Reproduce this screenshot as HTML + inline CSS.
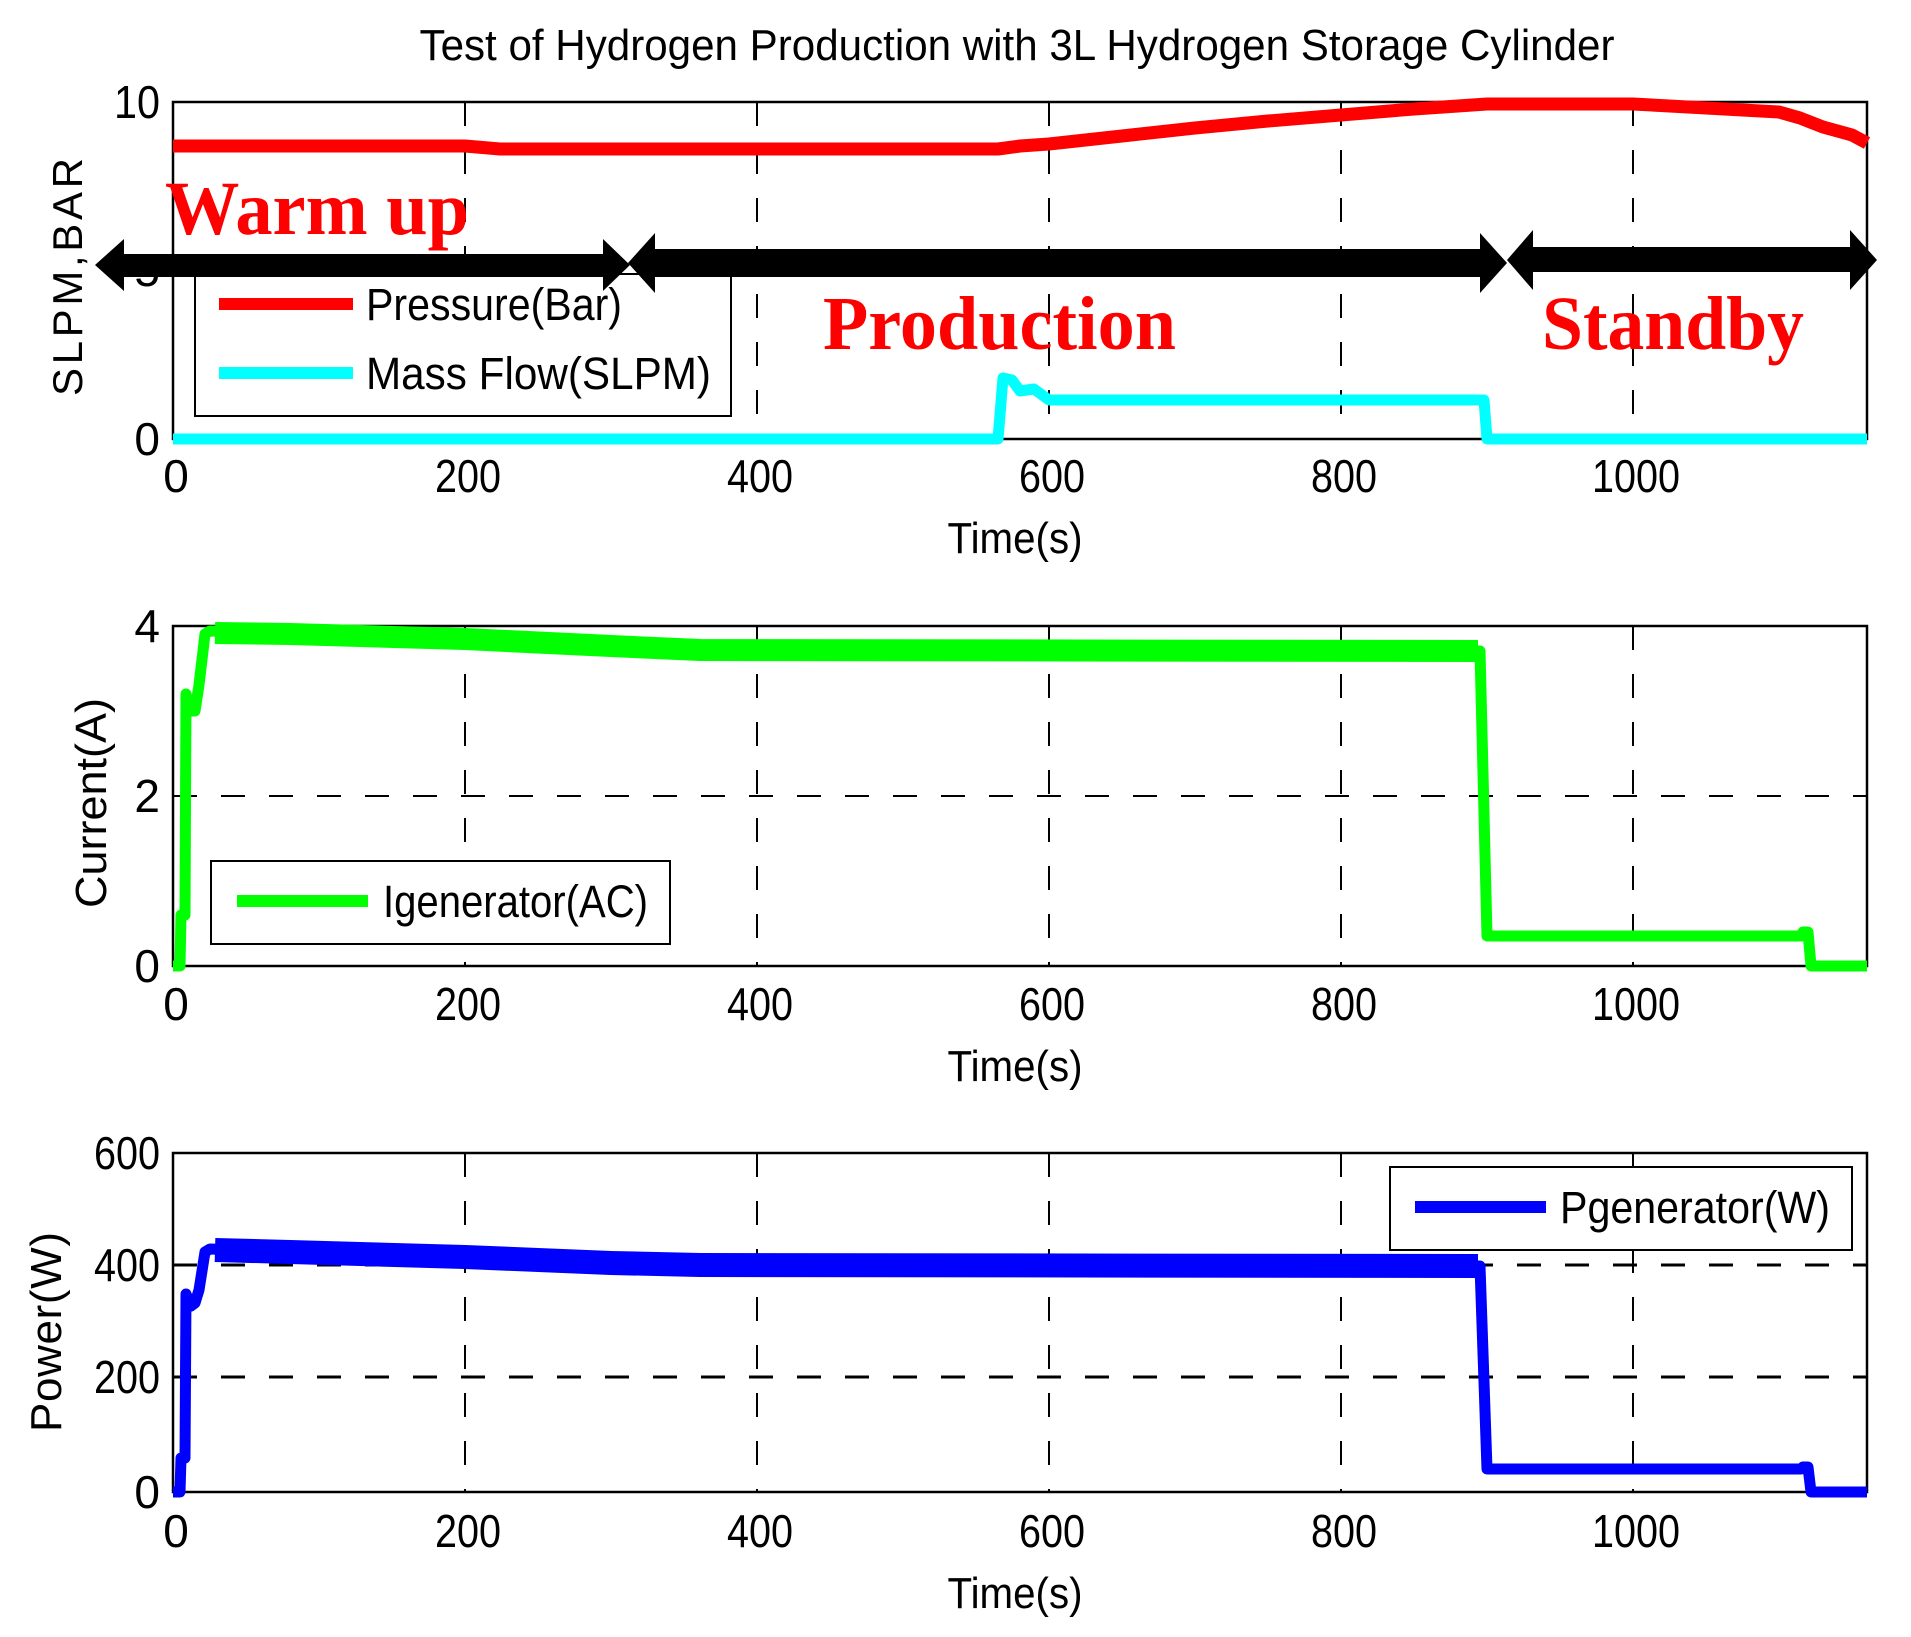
<!DOCTYPE html>
<html><head><meta charset="utf-8"><style>
html,body{margin:0;padding:0;background:#fff;}
svg{display:block;}
text{font-family:"Liberation Sans",Arial,sans-serif;}
</style></head><body>
<svg width="1911" height="1637" viewBox="0 0 1911 1637" xmlns="http://www.w3.org/2000/svg">
<rect width="1911" height="1637" fill="#fff"/>
<text x="1017" y="60" font-size="44" text-anchor="middle" textLength="1195" lengthAdjust="spacingAndGlyphs">Test of Hydrogen Production with 3L Hydrogen Storage Cylinder</text>

<!-- ===== TOP PLOT ===== -->
<g stroke="#000" stroke-width="2" stroke-dasharray="24 24" fill="none">
<line x1="465" y1="102" x2="465" y2="439"/><line x1="757" y1="102" x2="757" y2="439"/>
<line x1="1049" y1="102" x2="1049" y2="439"/><line x1="1341" y1="102" x2="1341" y2="439"/>
<line x1="1633" y1="102" x2="1633" y2="439"/>
</g>
<rect x="173" y="102" width="1694" height="337" fill="none" stroke="#000" stroke-width="2.5"/>
<g font-size="46" text-anchor="end">
<text x="160" y="118" textLength="46" lengthAdjust="spacingAndGlyphs">10</text>
<text x="160" y="286">5</text>
<text x="160" y="455">0</text>
</g>
<g font-size="46" text-anchor="middle">
<text x="176" y="492">0</text><text x="468" y="492" textLength="66" lengthAdjust="spacingAndGlyphs">200</text>
<text x="760" y="492" textLength="66" lengthAdjust="spacingAndGlyphs">400</text><text x="1052" y="492" textLength="66" lengthAdjust="spacingAndGlyphs">600</text>
<text x="1344" y="492" textLength="66" lengthAdjust="spacingAndGlyphs">800</text><text x="1636" y="492" textLength="88" lengthAdjust="spacingAndGlyphs">1000</text>
<text x="1015" y="553" font-size="44" textLength="135" lengthAdjust="spacingAndGlyphs">Time(s)</text>
</g>
<text transform="translate(82,277) rotate(-90)" font-size="42" text-anchor="middle" textLength="238" lengthAdjust="spacing">SLPM,BAR</text>

<rect x="195" y="274" width="536" height="142" fill="#fff" stroke="#000" stroke-width="2"/>
<line x1="219" y1="304" x2="353" y2="304" stroke="#ff0000" stroke-width="12"/>
<line x1="219" y1="373" x2="353" y2="373" stroke="#00ffff" stroke-width="12"/>
<text x="366" y="320" font-size="45" textLength="256" lengthAdjust="spacingAndGlyphs">Pressure(Bar)</text>
<text x="366" y="389" font-size="45" textLength="345" lengthAdjust="spacingAndGlyphs">Mass Flow(SLPM)</text>

<polyline fill="none" stroke="#ff0000" stroke-width="13" stroke-linejoin="round" points="173,146 465,146 500,149 998,149 1020,146 1049,144 1122,136 1195,128 1268,121 1341,115 1414,109 1487,104 1633,104 1706,108 1779,112 1800,118 1823,127 1852,135 1867,143"/>
<polyline fill="none" stroke="#00ffff" stroke-width="11" stroke-linejoin="round" points="173,439 998,439 1003,378 1012,380 1020,391 1034,389 1049,400 1484,400 1487,439 1867,439"/>

<g fill="#000">
<rect x="118" y="254" width="490" height="23"/>
<polygon points="95,265 124,239 124,291"/>
<polygon points="630,265 603,239 603,291"/>
<rect x="650" y="249" width="835" height="28"/>
<polygon points="628,263 655,233 655,293"/>
<polygon points="1507,263 1480,233 1480,293"/>
<rect x="1530" y="247" width="320" height="25"/>
<polygon points="1507,260 1533,230 1533,290"/>
<polygon points="1877,260 1850,230 1850,290"/>
</g>
<g fill="#ff0000" font-weight="bold" font-size="76">
<text x="165" y="234" textLength="304" lengthAdjust="spacingAndGlyphs" style="font-family:'Liberation Serif',serif">Warm up</text>
<text x="823" y="349" textLength="353" lengthAdjust="spacingAndGlyphs" style="font-family:'Liberation Serif',serif">Production</text>
<text x="1542" y="349" textLength="262" lengthAdjust="spacingAndGlyphs" style="font-family:'Liberation Serif',serif">Standby</text>
</g>

<!-- ===== MIDDLE PLOT ===== -->
<g stroke="#000" stroke-width="2" stroke-dasharray="24 24" fill="none">
<line x1="465" y1="626" x2="465" y2="966"/><line x1="757" y1="626" x2="757" y2="966"/>
<line x1="1049" y1="626" x2="1049" y2="966"/><line x1="1341" y1="626" x2="1341" y2="966"/>
<line x1="1633" y1="626" x2="1633" y2="966"/>
<line x1="173" y1="796" x2="1867" y2="796"/>
</g>
<rect x="173" y="626" width="1694" height="340" fill="none" stroke="#000" stroke-width="2.5"/>
<g font-size="46" text-anchor="end">
<text x="160" y="642">4</text><text x="160" y="812">2</text><text x="160" y="982">0</text>
</g>
<g font-size="46" text-anchor="middle">
<text x="176" y="1020">0</text><text x="468" y="1020" textLength="66" lengthAdjust="spacingAndGlyphs">200</text>
<text x="760" y="1020" textLength="66" lengthAdjust="spacingAndGlyphs">400</text><text x="1052" y="1020" textLength="66" lengthAdjust="spacingAndGlyphs">600</text>
<text x="1344" y="1020" textLength="66" lengthAdjust="spacingAndGlyphs">800</text><text x="1636" y="1020" textLength="88" lengthAdjust="spacingAndGlyphs">1000</text>
<text x="1015" y="1081" font-size="44" textLength="135" lengthAdjust="spacingAndGlyphs">Time(s)</text>
</g>
<text transform="translate(106,803) rotate(-90)" font-size="44" text-anchor="middle" textLength="210" lengthAdjust="spacingAndGlyphs">Current(A)</text>
<polyline fill="none" stroke="#00ff00" stroke-width="22" stroke-linejoin="round" points="215,633 290,634 465,639 611,646 700,650 1478,651"/>
<polyline fill="none" stroke="#00ff00" stroke-width="11" stroke-linejoin="round" points="173,966 180,966 181,915 185,915 186,694 191,711 195,711 199,685 205,634 210,631 290,633 465,638 611,645 700,650 1480,651 1487,936 1801,936 1803,932 1808,932 1811,966 1867,966"/>
<rect x="211" y="861" width="459" height="83" fill="#fff" stroke="#000" stroke-width="2"/>
<line x1="237" y1="901" x2="368" y2="901" stroke="#00ff00" stroke-width="12"/>
<text x="383" y="917" font-size="45" textLength="265" lengthAdjust="spacingAndGlyphs">Igenerator(AC)</text>

<!-- ===== BOTTOM PLOT ===== -->
<g stroke="#000" stroke-width="2" stroke-dasharray="24 24" fill="none">
<line x1="465" y1="1153" x2="465" y2="1492"/><line x1="757" y1="1153" x2="757" y2="1492"/>
<line x1="1049" y1="1153" x2="1049" y2="1492"/><line x1="1341" y1="1153" x2="1341" y2="1492"/>
<line x1="1633" y1="1153" x2="1633" y2="1492"/>
</g>
<g stroke="#000" stroke-width="3" stroke-dasharray="24 24" fill="none">
<line x1="173" y1="1265" x2="1867" y2="1265"/>
<line x1="173" y1="1377" x2="1867" y2="1377"/>
</g>
<rect x="173" y="1153" width="1694" height="339" fill="none" stroke="#000" stroke-width="2.5"/>
<g font-size="46" text-anchor="end">
<text x="160" y="1169" textLength="66" lengthAdjust="spacingAndGlyphs">600</text>
<text x="160" y="1281" textLength="66" lengthAdjust="spacingAndGlyphs">400</text>
<text x="160" y="1393" textLength="66" lengthAdjust="spacingAndGlyphs">200</text>
<text x="160" y="1508">0</text>
</g>
<g font-size="46" text-anchor="middle">
<text x="176" y="1547">0</text><text x="468" y="1547" textLength="66" lengthAdjust="spacingAndGlyphs">200</text>
<text x="760" y="1547" textLength="66" lengthAdjust="spacingAndGlyphs">400</text><text x="1052" y="1547" textLength="66" lengthAdjust="spacingAndGlyphs">600</text>
<text x="1344" y="1547" textLength="66" lengthAdjust="spacingAndGlyphs">800</text><text x="1636" y="1547" textLength="88" lengthAdjust="spacingAndGlyphs">1000</text>
<text x="1015" y="1608" font-size="44" textLength="135" lengthAdjust="spacingAndGlyphs">Time(s)</text>
</g>
<text transform="translate(61,1332) rotate(-90)" font-size="44" text-anchor="middle" textLength="200" lengthAdjust="spacing">Power(W)</text>
<polyline fill="none" stroke="#0000ff" stroke-width="24" stroke-linejoin="round" points="215,1250 290,1252 465,1257 611,1263 700,1265 1478,1266"/>
<polyline fill="none" stroke="#0000ff" stroke-width="11" stroke-linejoin="round" points="173,1492 180,1492 181,1458 185,1458 186,1294 191,1306 195,1303 199,1290 205,1252 210,1249 290,1252 465,1257 611,1262 700,1265 1480,1266 1487,1469 1801,1469 1803,1467 1808,1467 1811,1492 1867,1492"/>
<rect x="1390" y="1167" width="462" height="83" fill="#fff" stroke="#000" stroke-width="2"/>
<line x1="1415" y1="1207" x2="1546" y2="1207" stroke="#0000ff" stroke-width="12"/>
<text x="1560" y="1223" font-size="45" textLength="270" lengthAdjust="spacingAndGlyphs">Pgenerator(W)</text>
</svg>
</body></html>
